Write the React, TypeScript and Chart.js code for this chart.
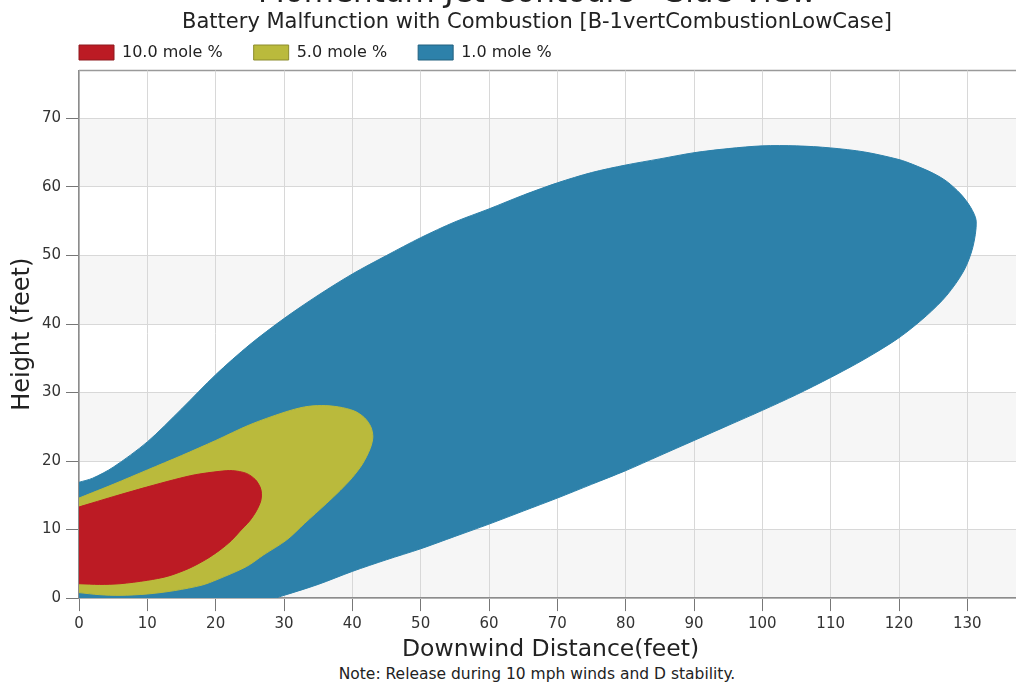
import { useEffect, useRef } from "react";
import { Chart, registerables } from "chart.js";

Chart.register(...registerables);

const FONT = "'DejaVu Sans', Verdana, sans-serif";

const chartTitle = "Momentum Jet Contours - Side View";
const chartSubtitle = "Battery Malfunction with Combustion [B-1vertCombustionLowCase]";
const xAxisTitle = "Downwind Distance(feet)";
const yAxisTitle = "Height (feet)";
const noteText = "Note: Release during 10 mph winds and D stability.";

const seriesLabels = ["10.0 mole %", "5.0 mole %", "1.0 mole %"];
const seriesColors = ["#BC1B24", "#BABA3C", "#2D81AA"];
const seriesEdge = ["#8E1A1F", "#8C8C2C", "#22607F"];

const xTickValues = [0, 10, 20, 30, 40, 50, 60, 70, 80, 90, 100, 110, 120, 130];
const yTickValues = [0, 10, 20, 30, 40, 50, 60, 70];

// 10.0 mole % contour (closed outline)
const redX = [0, 3, 6, 10, 13, 16, 18.5, 20.6, 22.3, 23.5, 25, 26, 26.6, 26.7, 26.5, 25.8, 24.5, 22.5, 20.6, 17, 14, 9.9, 5, 2, 0];
const redY = [2.1, 2.0, 2.1, 2.6, 3.2, 4.3, 5.6, 7.0, 8.4, 9.7, 11.3, 12.8, 14.2, 15.3, 16.2, 17.3, 18.2, 18.6, 18.5, 18.0, 17.3, 16.2, 14.8, 13.9, 13.3];

// 5.0 mole % contour
const yellowX = [0, 3, 6, 10, 14, 18, 20.2, 24.5, 27, 30.4, 33, 36.2, 38.2, 40, 41.5, 42.6, 43, 42.7, 41.8, 40.3, 38, 35.5, 33, 30, 25, 20, 15, 10, 5, 2, 0];
const yellowY = [0.8, 0.5, 0.4, 0.6, 1.1, 1.9, 2.7, 4.6, 6.3, 8.5, 10.9, 13.8, 15.7, 17.6, 19.6, 21.8, 23.5, 25.0, 26.3, 27.3, 27.9, 28.1, 27.9, 27.1, 25.3, 23.0, 20.8, 18.7, 16.6, 15.4, 14.6];

// 1.0 mole % contour
const blueX = [0, 28.5, 30, 35, 40, 45, 50, 55, 60, 65, 70, 75, 80, 85, 90, 95, 100, 105, 110, 115, 120, 124, 127, 129.5, 130.8, 131.3, 130.5, 129, 127, 125, 122, 120, 115, 110, 105, 100, 95, 90, 85, 80, 75, 70, 65, 60, 55, 50, 45, 40, 35, 30, 25, 20, 15, 10, 5, 2, 0];
const blueY = [0, 0, 0.4, 2.0, 3.9, 5.6, 7.2, 9.0, 10.8, 12.7, 14.6, 16.6, 18.6, 20.8, 23.0, 25.2, 27.4, 29.7, 32.2, 34.9, 38.0, 41.2, 44.2, 47.8, 51.2, 55.0, 57.0, 59.0, 60.8, 62.0, 63.3, 64.0, 65.1, 65.7, 66.0, 66.0, 65.6, 65.0, 64.1, 63.2, 62.1, 60.6, 58.8, 56.8, 54.9, 52.6, 50.0, 47.3, 44.2, 40.8, 37.0, 32.6, 27.6, 22.8, 19.1, 17.5, 16.9];

const seriesX = [redX, yellowX, blueX];
const seriesY = [redY, yellowY, blueY];

const bandPlugin = {
  id: "bands",
  beforeDraw(chart: any) {
    const { ctx, chartArea: a, scales } = chart;
    const y = scales.y;
    ctx.save();
    ctx.fillStyle = "#f6f6f6";
    for (let i = 0; i + 1 < yTickValues.length; i += 2) {
      const top = y.getPixelForValue(yTickValues[i + 1]);
      const bot = y.getPixelForValue(yTickValues[i]);
      ctx.fillRect(a.left, top, a.right - a.left, bot - top);
    }
    ctx.strokeStyle = "#9a9a9a";
    ctx.lineWidth = 1.5;
    ctx.beginPath();
    ctx.moveTo(a.left, a.top);
    ctx.lineTo(a.right, a.top);
    ctx.stroke();
    ctx.restore();
  },
};

// align the legend's first swatch with the left edge of the plot area
const legendAlignPlugin = {
  id: "legendAlign",
  afterLayout(chart: any) {
    const l = chart.legend;
    if (!l) return;
    const pad = l.options.labels.padding || 0;
    const shift = chart.chartArea.left - pad - l.left;
    l.left += shift;
    l.right += shift;
  },
};

export default function App() {
  const canvasRef = useRef<HTMLCanvasElement | null>(null);

  useEffect(() => {
    const canvas = canvasRef.current;
    if (!canvas) return;
    const datasets = seriesLabels.map((label, k) => ({
      label,
      data: seriesX[k].map((x, i) => ({ x, y: seriesY[k][i] })),
      showLine: true,
      fill: "shape",
      backgroundColor: seriesColors[k],
      borderColor: seriesColors[k],
      borderWidth: 1,
      pointRadius: 0,
      pointHoverRadius: 0,
      tension: 0.3,
    }));

    const gridCommon = {
      color: "#d8d8d8",
      lineWidth: 1,
      tickColor: "#777777",
      tickLength: 13,
    };

    const chart = new Chart(canvas, {
      type: "scatter",
      data: { datasets: datasets as any },
      plugins: [bandPlugin, legendAlignPlugin],
      options: {
        responsive: false,
        animation: false,
        events: [],
        layout: { padding: 0 },
        scales: {
          x: {
            type: "linear",
            min: 0,
            max: 138,
            afterBuildTicks: (s: any) => {
              s.ticks = xTickValues.map((v) => ({ value: v }));
            },
            grid: gridCommon,
            border: { color: "#8c8c8c", width: 1.5 },
            ticks: { font: { family: FONT, size: 15 }, color: "#333", padding: 4, maxRotation: 0 },
            title: {
              display: true,
              text: xAxisTitle,
              font: { family: FONT, size: 23.5 },
              color: "#222",
              padding: { top: -1.3, bottom: 0 },
            },
          },
          y: {
            type: "linear",
            min: 0,
            max: 77,
            afterFit: (s: any) => {
              s.width = 79;
            },
            afterBuildTicks: (s: any) => {
              s.ticks = yTickValues.map((v) => ({ value: v }));
            },
            grid: gridCommon,
            border: { color: "#8c8c8c", width: 1.5 },
            ticks: { font: { family: FONT, size: 15 }, color: "#333", padding: 5 },
            title: {
              display: true,
              text: yAxisTitle,
              font: { family: FONT, size: 24 },
              color: "#222",
              padding: { top: 8.6, bottom: 0 },
            },
          },
          yRight: {
            type: "linear",
            position: "right",
            display: true,
            afterFit: (s: any) => {
              s.width = 52;
            },
            grid: { display: false, drawTicks: false },
            border: { display: false },
            ticks: { display: false },
            title: { display: false },
          },
        },
        plugins: {
          tooltip: { enabled: false },
          title: {
            display: true,
            text: chartTitle,
            font: { family: FONT, size: 31, weight: "normal", lineHeight: 0.9 },
            color: "#222",
            padding: { top: -2.5, bottom: 0 },
          },
          subtitle: {
            display: true,
            text: chartSubtitle,
            font: { family: FONT, size: 21, weight: "normal", lineHeight: 1.2 },
            color: "#222",
            padding: { top: 1.5, bottom: -21.6 },
          },
          legend: {
            display: true,
            position: "top",
            align: "start",
            labels: {
              boxWidth: 35,
              boxHeight: 15,
              padding: 31,
              color: "#222",
              font: { family: FONT, size: 16 },
              generateLabels: (c: any) =>
                Chart.defaults.plugins.legend.labels.generateLabels(c).map((it: any, i: number) => ({
                  ...it,
                  strokeStyle: seriesEdge[i],
                  lineWidth: 1,
                })),
            },
          },
        },
      } as any,
    });
    return () => chart.destroy();
  }, []);

  return (
    <div
      style={{
        position: "fixed",
        left: 0,
        top: 0,
        width: 1016,
        height: 684,
        overflow: "hidden",
        background: "#ffffff",
      }}
    >
      <canvas
        ref={canvasRef}
        width={1074}
        height={681}
        style={{ position: "absolute", left: 0, top: -17, width: 1074, height: 681 }}
      />
      <div
        style={{
          position: "absolute",
          left: 0,
          top: 665,
          width: 1074,
          textAlign: "center",
          fontFamily: FONT,
          fontSize: 15.5,
          lineHeight: "18px",
          color: "#222",
          whiteSpace: "nowrap",
        }}
      >
        {noteText}
      </div>
    </div>
  );
}
